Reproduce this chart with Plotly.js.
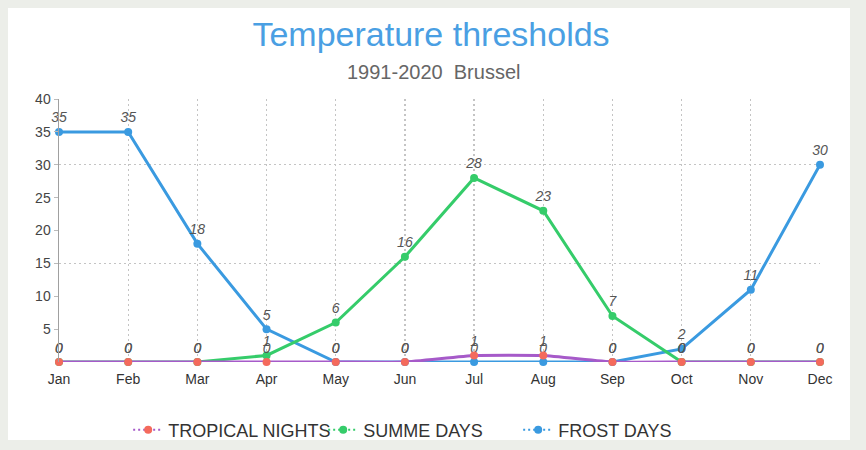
<!DOCTYPE html>
<html>
<head>
<meta charset="utf-8">
<script src="https://cdn.plot.ly/plotly-3.0.1.min.js"></script>
<style>
  html, body { margin: 0; padding: 0; background: #eceee9; width: 866px; height: 450px; overflow: hidden; }
  #card { position: absolute; left: 8px; top: 8px; width: 842px; height: 432px; background: #ffffff; }
  #chart { position: absolute; left: 0; top: 0; width: 866px; height: 450px; }
</style>
</head>
<body>
<div id="card"></div>
<div id="chart"></div>
<script>
const months = ["Jan","Feb","Mar","Apr","May","Jun","Jul","Aug","Sep","Oct","Nov","Dec"];
const tropicalNights = [0,0,0,0,0,0,1,1,0,0,0,0];
const summerDays = [0,0,0,1,6,16,28,23,7,0,0,0];
const frostDays = [35,35,18,5,0,0,0,0,0,2,11,30];
const yTicks = [5,10,15,20,25,30,35,40];
const yGrid = [15,30];

const FONT = "Liberation Sans, Arial, sans-serif";
const labelFont = {family: FONT, size: 14, color: "#555", style: "italic"};

const series = [
  {name: "FROST DAYS", y: frostDays, line: "#3a9ae0", marker: "#3a9ae0", rank: 3, shape: "linear"},
  {name: "SUMME DAYS", y: summerDays, line: "#35cc6a", marker: "#35cc6a", rank: 2, shape: "linear"},
  {name: "TROPICAL NIGHTS", y: tropicalNights, line: "#a65ac9", marker: "#f46a5c", rank: 1, shape: "spline"}
];

const traces = [];
series.forEach(s => {
  traces.push({
    name: s.name, x: months, y: s.y, type: "scatter", mode: "lines+markers+text",
    line: {color: s.line, width: 3, shape: s.shape, smoothing: 0.35}, marker: {color: s.marker, size: 8},
    text: s.y.map(String), textposition: "top center", textfont: labelFont,
    cliponaxis: false, showlegend: false, legendgroup: s.name
  });
});
// legend entries (dotted line + dot, as in the reference)
series.slice().sort((a, b) => a.rank - b.rank).forEach(s => {
  traces.push({
    name: s.name, x: [months[0]], y: [null], type: "scatter", mode: "lines+markers",
    line: {color: s.line, width: 2, dash: "2px,3px"}, marker: {color: s.marker, size: 8},
    showlegend: true, legendgroup: s.name, hoverinfo: "skip"
  });
});

traces.push({x: months, y: months.map(() => null), yaxis: "y2", showlegend: false, hoverinfo: "skip", type: "scatter", mode: "lines"});

const layout = {
  width: 866, height: 450,
  margin: {l: 59, r: 46, t: 99, b: 88},
  paper_bgcolor: "rgba(0,0,0,0)", plot_bgcolor: "rgba(0,0,0,0)",
  font: {family: FONT, color: "#444"},
  title: {text: "Temperature thresholds", font: {size: 34, color: "#4a9fe3", family: FONT},
          x: 0.4977, xref: "container", xanchor: "center", y: 0.925, yref: "container", yanchor: "middle"},
  annotations: [{
    text: "1991-2020  Brussel", xref: "paper", yref: "paper", x: 0.4915, y: 1, yshift: 27,
    xanchor: "center", yanchor: "middle", showarrow: false,
    font: {size: 20, color: "#666", family: FONT}
  }],
  xaxis: {
    type: "category", range: [0, 11], showline: false, zeroline: false,
    showgrid: true, gridcolor: "#c4c4c4", griddash: "2px,3px", gridwidth: 1.2,
    tickfont: {size: 14, color: "#333"}, ticks: "", ticklabelstandoff: 7, fixedrange: true
  },
  yaxis: {
    range: [0, 40], tickvals: yTicks, showgrid: false, zeroline: false,
    showline: true, linecolor: "#a0a0a0", linewidth: 1.5,
    ticks: "outside", ticklen: 4, tickcolor: "#bbb",
    tickfont: {size: 14, color: "#444"}
  },
  yaxis2: {
    range: [0, 40], overlaying: "y", tickvals: yGrid, showticklabels: false,
    showgrid: true, gridcolor: "#c4c4c4", griddash: "2px,3px", gridwidth: 1.2, zeroline: false
  },
  showlegend: true,
  legend: {
    orientation: "h", xref: "container", yref: "container", x: 0.148, xanchor: "left", y: 0.0444, yanchor: "middle",
    font: {size: 18, color: "#333", family: FONT}, entrywidth: 150, entrywidthmode: "pixels",
    itemwidth: 30, traceorder: "normal", bgcolor: "rgba(0,0,0,0)"
  }
};

Plotly.newPlot("chart", traces, layout, {displayModeBar: false, staticPlot: true});
</script>
</body>
</html>
